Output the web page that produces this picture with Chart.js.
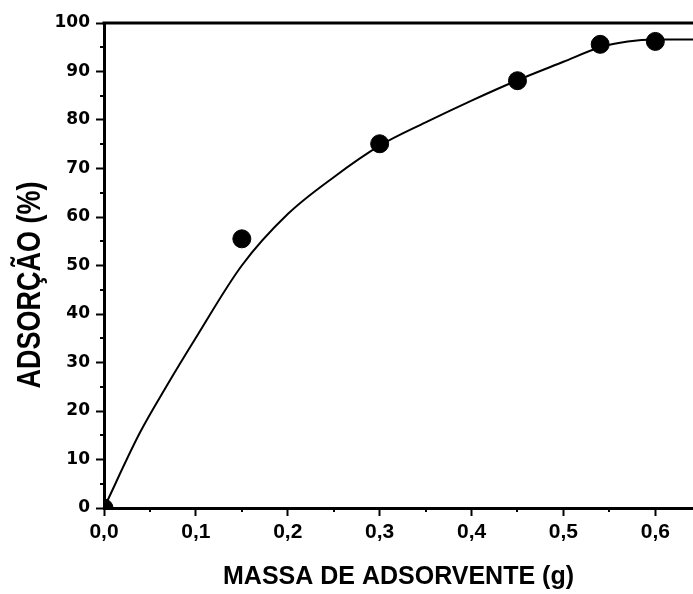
<!DOCTYPE html>
<html>
<head>
<meta charset="utf-8">
<script src="https://cdn.jsdelivr.net/npm/chart.js"></script>
<style>
    html, body { margin: 0; padding: 0; background: #fff; }
</style>
</head>
<body>
<canvas id="myChart" width="693" height="594"></canvas>
<script>
// pontos experimentais
const massaAdsorvente = [0.0, 0.15, 0.30, 0.45, 0.54, 0.60];
const adsorcao = [0, 55.5, 75.1, 88.1, 95.6, 96.2];

// curva de ajuste
const ajusteX = [0, 0.039, 0.068, 0.10, 0.15, 0.20, 0.25, 0.30, 0.35, 0.40, 0.45, 0.50, 0.54, 0.57, 0.60, 0.641];
const ajusteY = [0, 15.5, 25.1, 35.1, 50.0, 60.6, 68.2, 74.7, 79.5, 84.0, 88.2, 92.0, 95.0, 96.2, 96.6, 96.6];

const xTickValues = [0, 0.1, 0.2, 0.3, 0.4, 0.5, 0.6];
const xTickLabels = ['0,0', '0,1', '0,2', '0,3', '0,4', '0,5', '0,6'];
const xMinorTicks = [0.05, 0.15, 0.25, 0.35, 0.45, 0.55];

const yTickValues = [0, 10, 20, 30, 40, 50, 60, 70, 80, 90, 100];
const yTickLabels = ['0', '10', '20', '30', '40', '50', '60', '70', '80', '90', '100'];
const yMinorTicks = [5, 15, 25, 35, 45, 55, 65, 75, 85, 95];

const yTitle = 'ADSORÇÃO (%)';
const xTitle = 'MASSA DE ADSORVENTE (g)';

const StartFunc = () => {
    const ctx = document.getElementById('myChart');

    // moldura superior, ticks menores e título do eixo y
    const framePlugin = {
        id: 'frame',
        afterDraw: (chart) => {
            const { ctx, chartArea, scales } = chart;
            ctx.save();
            ctx.strokeStyle = '#000';
            ctx.lineWidth = 3;
            ctx.beginPath();
            ctx.moveTo(chartArea.left - 1.5, chartArea.top);
            ctx.lineTo(chartArea.right, chartArea.top);
            ctx.stroke();

            ctx.lineWidth = 2;
            ctx.beginPath();
            xMinorTicks.forEach(v => {
                const px = Math.round(scales.x.getPixelForValue(v));
                ctx.moveTo(px, chartArea.bottom);
                ctx.lineTo(px, chartArea.bottom + 4);
            });
            yMinorTicks.forEach(v => {
                const py = Math.round(scales.y.getPixelForValue(v));
                ctx.moveTo(chartArea.left, py);
                ctx.lineTo(chartArea.left - 4, py);
            });
            ctx.stroke();

            ctx.fillStyle = '#000';
            ctx.font = 'bold 27px "Liberation Sans"';
            ctx.textAlign = 'center';
            ctx.textBaseline = 'alphabetic';
            ctx.translate(40, 285);
            ctx.rotate(-Math.PI / 2);
            ctx.scale(1, 1.2);
            ctx.fillText(yTitle, 0, 0);
            ctx.restore();
        }
    };

    new Chart(ctx, {
        type: 'scatter',
        data: {
            datasets: [{
                label: 'ajuste',
                data: ajusteX.map((x, i) => ({ x: x, y: ajusteY[i] })),
                showLine: true,
                borderColor: '#000',
                borderWidth: 2,
                pointRadius: 0,
                cubicInterpolationMode: 'monotone',
                order: 2
            }, {
                label: 'adsorção',
                data: massaAdsorvente.map((x, i) => ({ x: x, y: adsorcao[i] })),
                showLine: false,
                pointRadius: 9,
                pointBackgroundColor: '#000',
                pointBorderColor: '#000',
                order: 1
            }]
        },
        options: {
            responsive: false,
            animation: false,
            layout: {
                autoPadding: false,
                padding: { top: 23, right: 0, left: 0, bottom: 0 }
            },
            plugins: {
                legend: { display: false },
                tooltip: { enabled: false }
            },
            scales: {
                x: {
                    type: 'linear',
                    min: 0,
                    max: 0.641,
                    afterBuildTicks: s => { s.ticks = xTickValues.map(v => ({ value: v })); },
                    afterFit: s => {
                        s.height = 86;
                        s.paddingLeft = 0;
                        s.paddingRight = 0;
                    },
                    grid: { drawOnChartArea: false, tickLength: 8, tickWidth: 2, tickColor: '#000' },
                    border: { color: '#000', width: 3 },
                    ticks: {
                        color: '#000',
                        padding: 4,
                        maxRotation: 0,
                        autoSkip: false,
                        font: { family: 'Liberation Sans', weight: 'bold', size: 21 },
                        callback: (v, i) => xTickLabels[i]
                    },
                    title: {
                        display: true,
                        text: xTitle,
                        color: '#000',
                        font: { family: 'Liberation Sans', weight: 'bold', size: 25 },
                        padding: { top: 0, bottom: 2 }
                    }
                },
                y: {
                    min: 0,
                    max: 100,
                    afterBuildTicks: s => { s.ticks = yTickValues.map(v => ({ value: v })); },
                    afterFit: s => { s.width = 104; },
                    grid: { drawOnChartArea: false, tickLength: 8, tickWidth: 2, tickColor: '#000' },
                    border: { color: '#000', width: 3 },
                    ticks: {
                        color: '#000',
                        padding: 6,
                        autoSkip: false,
                        font: { family: 'DejaVu Sans', weight: 'bold', size: 17 },
                        callback: (v, i) => yTickLabels[i]
                    }
                }
            }
        },
        plugins: [framePlugin]
    });
};

StartFunc();
</script>
</body>
</html>
